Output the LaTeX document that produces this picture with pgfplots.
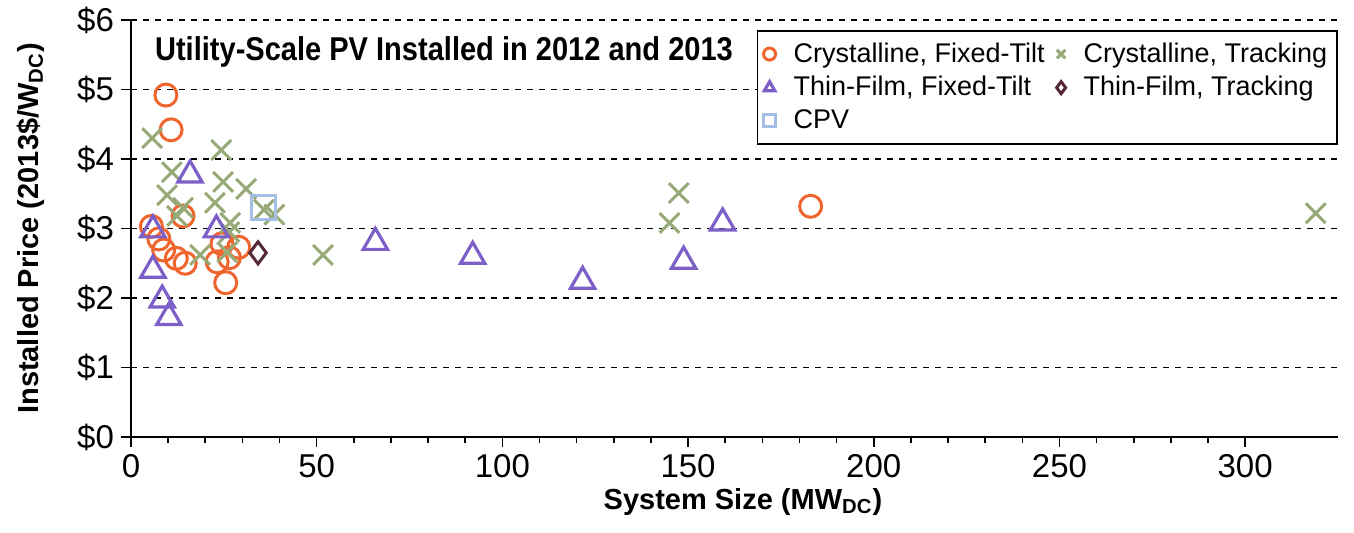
\documentclass[border=0pt]{standalone}
\usepackage{pgfplots}
\pgfplotsset{compat=1.18}
\usepackage{fontspec}
\setmainfont{Liberation Sans}
\usepackage{graphicx}
\definecolor{cfix}{RGB}{240,100,45}
\definecolor{ctrk}{RGB}{150,170,120}
\definecolor{tfix}{RGB}{125,95,200}
\definecolor{ttrk}{RGB}{85,40,55}
\definecolor{cpv}{RGB}{165,190,230}
\begin{document}
\begin{tikzpicture}
\begin{axis}[name=ax,
 scale only axis, width=603.5pt, height=208.5pt,
 xmin=0, xmax=325, ymin=0, ymax=6,
 axis lines=left, axis line style={-, line width=0.8pt},
 xtick={0,50,...,300}, minor x tick num=4,
 ytick={0,...,6}, yticklabels={\$0,\$1,\$2,\$3,\$4,\$5,\$6},
 tick align=outside, major tick length=5pt, minor tick length=3pt,
 tick style={black, line width=0.8pt},
 ymajorgrids, grid style={dashed, black, line width=0.6pt},
 /pgf/number format/assume math mode=true,
 ticklabel style={font=\fontsize{16.5}{19}\selectfont},
 xlabel={System Size (MW\textsubscript{DC})},
 ylabel={Installed Price (2013\$/W\textsubscript{DC})},
 every axis x label/.style={at={(axis description cs:0.507,-0.1727)}, anchor=base, font=\fontsize{14.5}{17}\selectfont\bfseries},
 every axis y label/.style={at={(axis description cs:-0.083,0.5)}, anchor=center, rotate=90, font=\fontsize{14.5}{17}\selectfont\bfseries},
 legend columns=2, legend cell align=left,
 legend style={at={(1,0.976)}, anchor=north east, draw=black, line width=0.8pt,
   font=\fontsize{13.5}{15}\selectfont, inner xsep=3pt, inner ysep=4pt, row sep=1.5pt,
   /tikz/every odd column/.append style={column sep=7pt},
   /tikz/every even column/.append style={column sep=4pt}},
 legend image post style={mark size=3pt},
 only marks,
]
\addplot[cfix, mark=o, mark size=5.5pt, mark options={line width=1.5pt}] coordinates {
(9.4,4.92) (10.8,4.42) (183,3.32) (5.5,3.03) (14,3.18) (7.5,2.85) (8.8,2.69)
(12.2,2.57) (14.6,2.5) (24.5,2.78) (29,2.73) (25.5,2.22) (23.2,2.52) (26.5,2.58)
};
\addlegendentry{Crystalline, Fixed-Tilt}
\addplot[ctrk, mark=x, mark size=7pt, mark options={line width=1.5pt}] coordinates {
(5.7,4.3) (24.3,4.13) (11,3.81) (24.8,3.67) (31,3.57) (9.7,3.48) (22.6,3.37)
(14,3.3) (12.4,3.18) (35.8,3.27) (38.6,3.2) (26.7,3.08) (18.6,2.62) (25.9,2.66)
(26.5,2.95) (51.7,2.62) (145,3.08) (147.5,3.51) (319,3.22)
};
\addlegendentry{Crystalline, Tracking}
\addplot[tfix, mark=triangle, mark size=7pt, mark options={line width=1.6pt}] coordinates {
(15.9,3.77) (23,2.98) (5.9,2.98) (5.9,2.4) (8.4,1.97) (10.2,1.72) (65.8,2.8)
(92,2.6) (121.6,2.24) (148.8,2.53) (159.3,3.08)
};
\addlegendentry{Thin-Film, Fixed-Tilt}
\addplot[ttrk, mark=diamond, mark size=5.5pt, mark options={line width=1.5pt}] coordinates {
(34.2,2.65)
};
\addlegendentry{Thin-Film, Tracking}
\addplot[cpv, mark=square, mark size=6pt, mark options={line width=1.5pt}] coordinates {
(35.6,3.3)
};
\addlegendentry{CPV}
\node[anchor=base west, font=\fontsize{16.5}{19}\selectfont\bfseries] at (axis description cs:0.0141,0.904) {\scalebox{0.88}[1]{Utility-Scale PV Installed in 2012 and 2013}};
\end{axis}
\pgfresetboundingbox
\path[use as bounding box] ([shift={(-65.5pt,-48pt)}]ax.south west) rectangle ([shift={(8pt,10pt)}]ax.north east);
\end{tikzpicture}
\end{document}
